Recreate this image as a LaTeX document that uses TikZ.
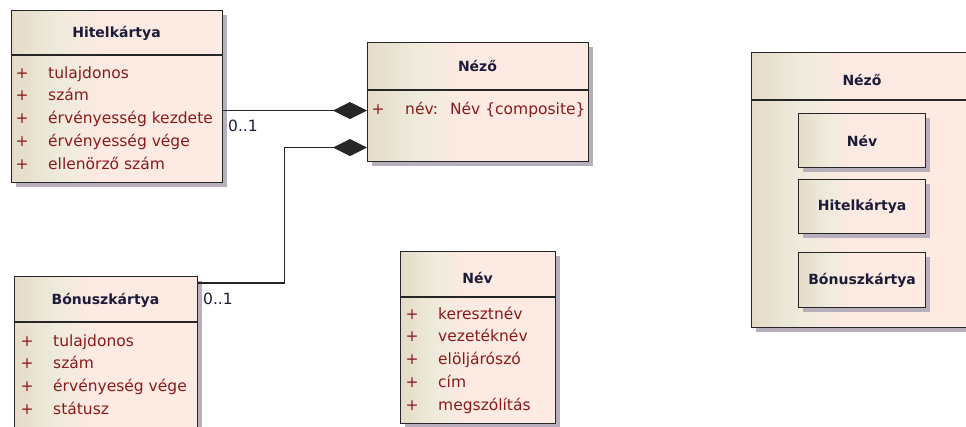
\documentclass[tikz,border=0pt]{standalone}
\usepackage{fontspec}
\setmainfont{DejaVu Sans}
\usepackage{tikz}
\usetikzlibrary{arrows.meta,positioning,shadows}

\definecolor{ubeige}{HTML}{E5DBC8}
\definecolor{ulight}{HTML}{EEEBDC}
\definecolor{upink}{HTML}{FDEAE2}
\definecolor{uline}{HTML}{262626}
\definecolor{unavy}{HTML}{1C1C3A}
\definecolor{ured}{HTML}{8B1A1A}
\definecolor{ushadow}{HTML}{B7AFBC}
\pgfdeclarehorizontalshading{umlfill}{100bp}{color(0bp)=(ubeige); color(25bp)=(ubeige);
  color(36bp)=(ulight); color(46bp)=(upink); color(100bp)=(upink)}

\begin{document}
\begin{tikzpicture}[x=1pt,y=-1pt,>=latex]
\tikzstyle{cls}=[draw=uline, line width=1.2pt, shading=umlfill, anchor=north west,
inner sep=0pt, drop shadow={fill=ushadow, opacity=1, shadow xshift=4pt, shadow yshift=-4pt}]
\tikzstyle{hdr}=[draw=uline, line width=1.2pt]
\tikzstyle{ttl}=[font=\fontsize{14}{16}\selectfont\bfseries, text=unavy, inner sep=0pt]
\tikzstyle{attr}=[font=\fontsize{15.5}{22.8}\selectfont, text=ured, align=left,
anchor=north west, inner sep=0pt]
\tikzstyle{plus}=[attr, anchor=north, align=center]
\tikzstyle{mult}=[font=\fontsize{15.5}{18}\selectfont, text=unavy, anchor=north west, inner sep=0pt]
\tikzstyle{comp}=[line width=1.2pt, draw=uline, -{Diamond[length=34pt,width=17pt]}]

\useasboundingbox (0,0) rectangle (966,427);
\clip (0,0) rectangle (966,427);

% Hitelkartya
\node[cls, minimum width=211, minimum height=172] (hitel) at (11,10) {};
\draw[hdr] ([yshift=-45pt]hitel.north west) -- ([yshift=-45pt]hitel.north east);
\node[ttl] (hitelT) at (116.5,33) {Hitelkártya};
\node[plus] (hitelP) at (22,62) {\strut+\\+\\+\\+\\+};
\node[attr] (hitelA) at (48,62) {\strut tulajdonos\\szám\\érvényesség kezdete\\érvényesség vége\\ellenörző szám};

% Nezo
\node[cls, minimum width=221, minimum height=119] (nezo) at (367,42) {};
\draw[hdr] ([yshift=-48pt]nezo.north west) -- ([yshift=-48pt]nezo.north east);
\node[ttl] (nezoT) at (477.5,66) {Néző};
\node[plus] (nezoP) at (378,98) {\strut+};
\node[attr] (nezoA) at (405,98) {\strut név:\hspace{12pt}Név \{composite\}};

% Bonuszkartya
\node[cls, minimum width=183, minimum height=170] (bonusz) at (14,276) {};
\draw[hdr] ([yshift=-46pt]bonusz.north west) -- ([yshift=-46pt]bonusz.north east);
\node[ttl] (bonuszT) at (105.5,300) {Bónuszkártya};
\node[plus] (bonuszP) at (27,330) {\strut+\\+\\+\\+};
\node[attr] (bonuszA) at (53,330) {\strut tulajdonos\\szám\\érvényeség vége\\státusz};

% Nev
\node[cls, minimum width=155, minimum height=172] (nev) at (400,251) {};
\draw[hdr] ([yshift=-46pt]nev.north west) -- ([yshift=-46pt]nev.north east);
\node[ttl] (nevT) at (477.5,278) {Név};
\node[plus] (nevP) at (412,303) {\strut+\\+\\+\\+\\+};
\node[attr] (nevA) at (438,303) {\strut keresztnév\\vezetéknév\\elöljárószó\\cím\\megszólítás};

% composition connectors
\coordinate (h1) at ([yshift=-14pt]hitel.east);
\coordinate (n2) at ([yshift=-45.5pt]nezo.west);
\coordinate (b1) at ([yshift=-7pt]bonusz.north east);
\draw[comp] (h1) -- (h1 -| nezo.west);
\draw[comp] (b1) -- ++(86,0) |- (n2);
\node[mult] (m1) at (228,120) {0..1};
\node[mult] (m2) at (203,293) {0..1};

% Nezo with parts
\node[cls, minimum width=222, minimum height=275] (nezoB) at (751,52) {};
\draw[hdr] ([yshift=-48pt]nezoB.north west) -- ([yshift=-48pt]nezoB.north east);
\node[ttl] (nezoBT) at (862,80) {Néző};
\node[cls, minimum width=127, minimum height=54] (pNev) at (798,113) {};
\node[ttl] at (pNev.center) {Név};
\node[cls, minimum width=127, minimum height=54] (pHitel) at (798,179) {};
\node[ttl] at (pHitel.center) {Hitelkártya};
\node[cls, minimum width=127, minimum height=55] (pBonusz) at (798,252) {};
\node[ttl] at (pBonusz.center) {Bónuszkártya};

\end{tikzpicture}
\end{document}
